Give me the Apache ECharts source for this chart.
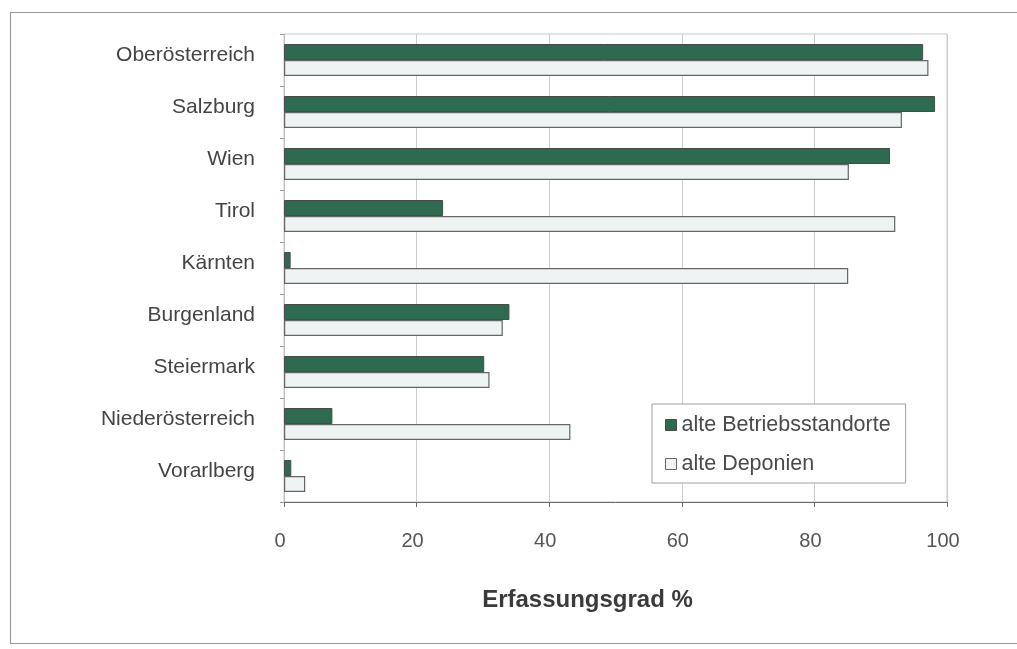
<!DOCTYPE html>
<html>
<head>
<meta charset="utf-8">
<script src="https://cdn.jsdelivr.net/npm/echarts@6/dist/echarts.min.js"></script>
<style>
  html, body { margin: 0; padding: 0; background: #ffffff; }
  #chart { width: 1017px; height: 649px; }
</style>
</head>
<body>
<div id="chart"></div>
<script>
// Bundesländer, top to bottom
const categories = [
  'Oberösterreich', 'Salzburg', 'Wien', 'Tirol', 'Kärnten',
  'Burgenland', 'Steiermark', 'Niederösterreich', 'Vorarlberg'
];
// Erfassungsgrad in %
const betriebsstandorte = [96.4, 98.2, 91.4, 24.0, 1.0, 34.0, 30.2, 7.3, 1.1];
const deponien          = [97.2, 93.2, 85.2, 92.2, 85.1, 33.0, 31.0, 43.2, 3.2];
const seriesNames = ['alte Betriebsstandorte', 'alte Deponien'];
const xTicks = [0, 20, 40, 60, 80, 100];

const FONT = '"Liberation Sans", Arial, sans-serif';
const GREEN = '#2e6a4f';
const PALE = '#eef4f3';
const EDGE = '#4a4a4a';

const chart = echarts.init(document.getElementById('chart'), null, { renderer: 'canvas' });

chart.setOption({
  backgroundColor: '#ffffff',
  animation: false,
  textStyle: { fontFamily: FONT },
  graphic: [{
    type: 'rect',
    left: 8, top: 10,
    shape: { width: 1030, height: 631 },
    style: { fill: 'none', stroke: '#9a9a9a', lineWidth: 1.2 },
    silent: true, z: -10
  }],
  grid: {
    left: 284, right: 70, top: 34, bottom: 147,
    show: true, borderColor: '#c9c9c9', borderWidth: 1,
    containLabel: false
  },
  legend: {
    orient: 'vertical',
    left: 652, top: 404,
    padding: [10, 15, 8, 13],
    itemGap: 17,
    itemWidth: 11, itemHeight: 11,
    backgroundColor: '#ffffff',
    borderColor: '#a0a0a0', borderWidth: 1,
    textStyle: { fontFamily: FONT, fontSize: 21.5, color: '#4a4a4a' },
    data: [
      { name: seriesNames[0], icon: 'rect', itemStyle: { color: GREEN, borderColor: EDGE, borderWidth: 1 } },
      { name: seriesNames[1], icon: 'rect', itemStyle: { color: PALE, borderColor: '#666666', borderWidth: 1 } }
    ]
  },
  xAxis: {
    type: 'value',
    min: 0, max: 100, interval: 20,
    name: 'Erfassungsgrad %',
    nameLocation: 'middle',
    nameGap: 86,
    nameTextStyle: {
      fontFamily: FONT, fontSize: 24, fontWeight: 'bold', color: '#3a3a3a',
      padding: [0, 56, 0, 0]
    },
    axisLine: { show: true, lineStyle: { color: '#6a6a6a', width: 1 } },
    axisTick: { show: true, length: 5, lineStyle: { color: '#6a6a6a' } },
    axisLabel: {
      margin: 29, fontSize: 20, color: '#555555', fontFamily: FONT,
      padding: [0, 8, 0, 0],
      formatter: v => xTicks.includes(v) ? String(v) : ''
    },
    splitLine: { show: true, lineStyle: { color: '#cccccc', width: 1 } }
  },
  yAxis: {
    type: 'category',
    data: categories,
    inverse: true,
    axisLine: { show: true, lineStyle: { color: '#bdbdbd', width: 1 } },
    axisTick: { show: true, length: 4, lineStyle: { color: '#9a9a9a' } },
    axisLabel: {
      margin: 29, fontSize: 21, color: '#444444', fontFamily: FONT,
      formatter: v => '{l|' + v + '}',
      rich: {
        l: { fontSize: 21, color: '#444444', fontFamily: FONT, padding: [0, 0, 9, 0] }
      }
    },
    splitLine: { show: false }
  },
  series: [
    {
      name: seriesNames[0],
      type: 'bar',
      data: betriebsstandorte,
      barWidth: 16,
      barGap: '0%',
      itemStyle: { color: GREEN, borderColor: EDGE, borderWidth: 1 }
    },
    {
      name: seriesNames[1],
      type: 'bar',
      data: deponien,
      barWidth: 16,
      barGap: '0%',
      itemStyle: { color: PALE, borderColor: '#666666', borderWidth: 1.2 }
    }
  ]
});
</script>
</body>
</html>
